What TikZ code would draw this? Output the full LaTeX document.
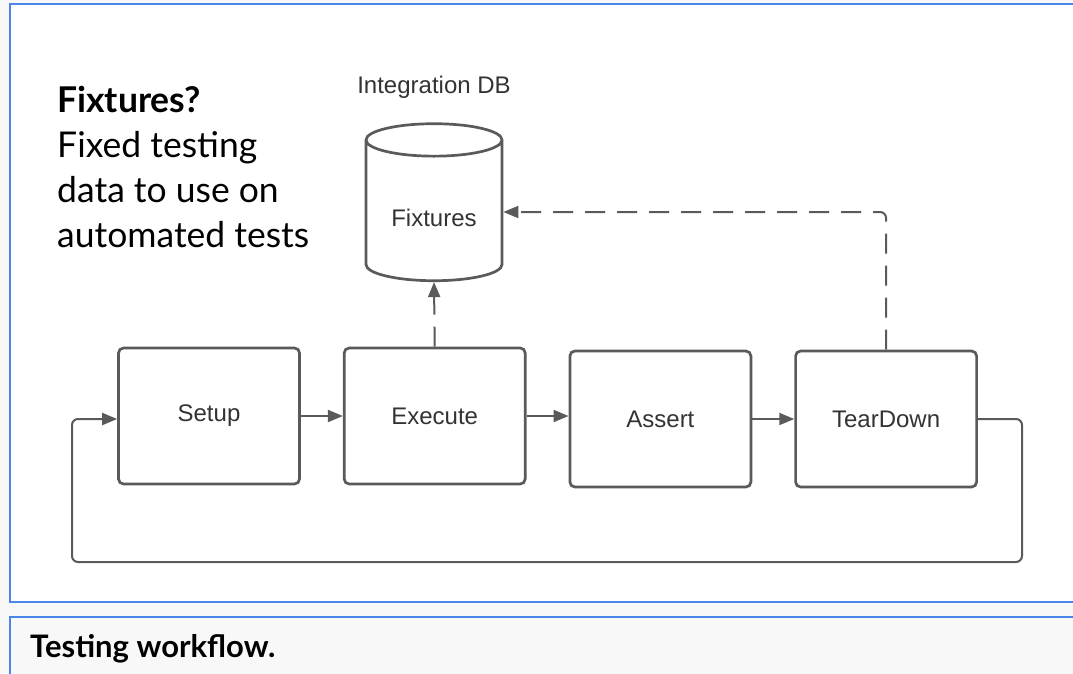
\documentclass[tikz,border=0pt]{standalone}
\usepackage{fontspec}
\setmainfont{Lato}
\newfontfamily\diagfont{Liberation Sans}
\usetikzlibrary{arrows.meta,positioning,shapes.geometric}
\definecolor{frameblue}{RGB}{74,134,232}
\definecolor{pagegray}{RGB}{248,248,248}
\definecolor{linegray}{RGB}{90,90,90}
\definecolor{labelgray}{RGB}{51,51,51}
\tikzset{
  step_lbl/.style = {font=\diagfont\fontsize{24}{28}\selectfont, text=labelgray},
  wf_box/.style = {step_lbl, draw=linegray, line width=2.7pt, rounded corners=5pt,
    fill=white, minimum width=181pt, minimum height=136pt, inner sep=0pt},
  db_cyl/.style = {step_lbl, cylinder, shape border rotate=90, aspect=0.38,
    draw=linegray, line width=2.7pt, fill=white, minimum width=136pt,
    minimum height=157pt, inner sep=0pt, text height=30pt, text depth=0pt},
  flow/.style = {draw=linegray, line width=2pt, rounded corners=6pt},
  dashflow/.style = {flow, dash pattern=on 20pt off 12pt}}

\begin{document}
\begin{tikzpicture}[x=1pt,y=-1pt,->,>={Triangle[length=15pt,width=12pt]},
  node distance=42pt]
 \useasboundingbox (0,0) rectangle (1073,673);
 \clip (0,0) rectangle (1073,673);
 \fill[pagegray] (0,0) rectangle (1073,673);
 \draw[-,frameblue,line width=2pt,fill=white] (10,4) rectangle (1090,602);
 \draw[-,frameblue,line width=2pt,fill=pagegray] (10,617) rectangle (1090,700);

 % left note and caption
 \node (note) [anchor=north west, align=left, inner sep=0pt,
   font=\fontsize{35.5}{45}\selectfont] at (57,86)
   {\textbf{Fixtures?}\\Fixed testing\\data to use on\\automated tests};
 \node (caption) [anchor=base west, inner sep=0pt,
   font=\bfseries\fontsize{31}{36}\selectfont] at (30,657) {Testing workflow.};

 % workflow steps
 \node [wf_box] (setup) at (209,416) {Setup};
 \node [wf_box, right=of setup] (exec) {Execute};
 \node [wf_box, right=of exec, yshift=-3pt] (assert) {Assert};
 \node [wf_box, right=of assert] (teardown) {TearDown};

 % database
 \node [db_cyl] (fix) at (434,211) {Fixtures};
 \node [step_lbl, above=20pt of fix] (dblbl) {Integration DB};

 \coordinate (loopR) at (1022,562);
 \coordinate (loopL) at (72,562);

 \draw [flow] (setup) -- (exec);
 \draw [flow] (exec.east) -- (exec.east -| assert.west);
 \draw [flow] (assert) -- (teardown);
 \draw [flow] (teardown.east) -| (loopR) -- (loopL) |- (setup.west |- teardown.east);
 \draw [dashflow] (exec.north) -- (fix.south);
 \draw [dashflow] (teardown.north) |- ([yshift=-1pt]fix.east);
\end{tikzpicture}
\end{document}
